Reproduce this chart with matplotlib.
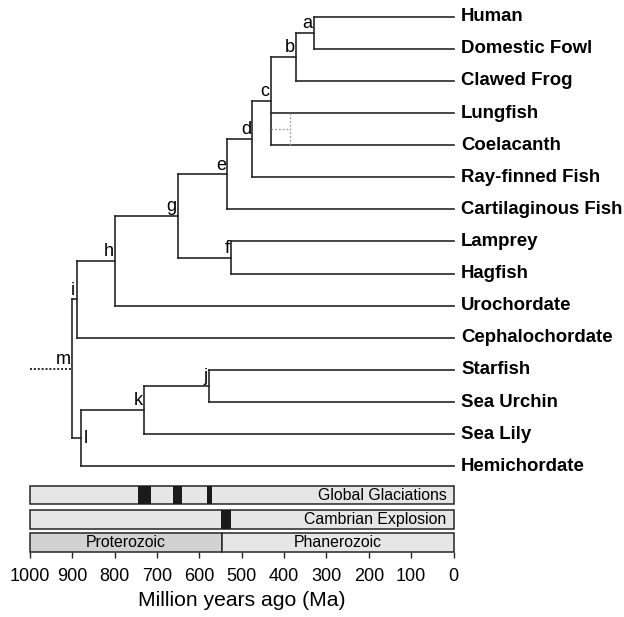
#!/usr/bin/env python3
"""
Time-calibrated phylogeny of deuterostomes with a geologic time strip below.
"""

import matplotlib.pyplot as plt
from matplotlib.patches import Rectangle

# --- Data ---------------------------------------------------------------------

LEAVES = [
    "Human", "Domestic Fowl", "Clawed Frog", "Lungfish", "Coelacanth",
    "Ray-finned Fish", "Cartilaginous Fish", "Lamprey", "Hagfish",
    "Urochordate", "Cephalochordate", "Starfish", "Sea Urchin", "Sea Lily",
    "Hemichordate",
]

NODE_NAMES = ["a", "b", "c", "d", "e", "f", "g", "h", "i", "j", "k", "l", "m"]
NODE_AGES = [330, 372, 432, 475, 534, 526, 651, 799, 890, 577, 731, 880, 900]
NODE_CHILDREN = {
    "a": ["Human", "Domestic Fowl"],
    "b": ["a", "Clawed Frog"],
    "c": ["b", "Lungfish", "Coelacanth"],
    "d": ["c", "Ray-finned Fish"],
    "e": ["d", "Cartilaginous Fish"],
    "f": ["Lamprey", "Hagfish"],
    "g": ["e", "f"],
    "h": ["g", "Urochordate"],
    "i": ["h", "Cephalochordate"],
    "j": ["Starfish", "Sea Urchin"],
    "k": ["j", "Sea Lily"],
    "l": ["k", "Hemichordate"],
    "m": ["i", "l"],
}
ROOT = "m"

# alternative lungfish + coelacanth node (dotted)
ALT_NODE_AGE = 386

GLACIATIONS = [(745, 714), (662, 640), (583, 570)]
CAMBRIAN = [(549, 525)]
EON_BOUNDARY = 547
EONS = ["Proterozoic", "Phanerozoic"]

XTICKS = [1000, 900, 800, 700, 600, 500, 400, 300, 200, 100, 0]

LINE_COLOR = "#262626"
FONT = "Liberation Sans"


# --- Tree ---------------------------------------------------------------------

def layout(node, ypos):
    """Return row of node; fills ypos for internal nodes (midpoint of span)."""
    if node not in NODE_CHILDREN:
        return LEAVES.index(node)
    ys = [layout(ch, ypos) for ch in NODE_CHILDREN[node]]
    ypos[node] = (min(ys) + max(ys)) / 2
    return ypos[node]


def draw_tree(ax):
    ages = dict(zip(NODE_NAMES, NODE_AGES))
    ypos = {}
    layout(ROOT, ypos)

    def row(n):
        return ypos[n] if n in ypos else LEAVES.index(n)

    for name in NODE_NAMES:
        x = ages[name]
        ys = [row(ch) for ch in NODE_CHILDREN[name]]
        ax.plot([x, x], [min(ys), max(ys)], color=LINE_COLOR, lw=1.2,
                solid_capstyle="projecting")
        for ch in NODE_CHILDREN[name]:
            x_end = ages.get(ch, 0)
            ax.plot([x, x_end], [row(ch), row(ch)], color=LINE_COLOR, lw=1.2,
                    solid_capstyle="projecting", clip_on=False)

        if name == "l":
            ax.text(x - 6, ypos[name], name, ha="left", va="center",
                    fontsize=13, family=FONT)
        else:
            ax.text(x + 3, ypos[name] - 0.02, name, ha="right", va="bottom",
                    fontsize=13, family=FONT)

    # dotted alternative node for Lungfish / Coelacanth
    y1, y2 = LEAVES.index("Lungfish"), LEAVES.index("Coelacanth")
    ax.plot([ALT_NODE_AGE, ALT_NODE_AGE], [y1, y2], color="#9a9a9a", lw=0.9,
            ls=(0, (1.5, 1.5)))
    ax.plot([ages["c"], ALT_NODE_AGE], [(y1 + y2) / 2] * 2, color="#9a9a9a",
            lw=0.9, ls=(0, (1.5, 1.5)))

    # dotted stem of the root
    ax.plot([1000, ages[ROOT]], [ypos[ROOT]] * 2, color=LINE_COLOR, lw=1.4,
            ls=(0, (1, 1)), clip_on=False)

    for i, leaf in enumerate(LEAVES):
        ax.text(-18, i, leaf, ha="left", va="center", fontsize=13.4,
                fontweight="bold", family=FONT, clip_on=False)


# --- Time strip ---------------------------------------------------------------

def draw_strip(ax, top, bottom, spans, text, fill="#e6e6e6"):
    ax.add_patch(Rectangle((1000, top), -1000, bottom - top, facecolor=fill,
                           edgecolor=LINE_COLOR, lw=1.1, zorder=2, clip_on=False))
    for old, young in spans:
        ax.add_patch(Rectangle((old, top), young - old, bottom - top,
                               facecolor="#1a1a1a", edgecolor="none", zorder=3))
    if text:
        ax.text(16, (top + bottom) / 2, text, ha="right", va="center",
                fontsize=11.4, family=FONT, zorder=4)


def draw_time_strips(ax):
    draw_strip(ax, 14.61, 15.19, GLACIATIONS, "Global Glaciations")
    draw_strip(ax, 15.37, 15.96, CAMBRIAN, "Cambrian Explosion")

    top, bottom = 16.09, 16.68
    ax.add_patch(Rectangle((1000, top), EON_BOUNDARY - 1000, bottom - top,
                           facecolor="#d2d2d2", edgecolor=LINE_COLOR, lw=1.1,
                           zorder=2, clip_on=False))
    ax.add_patch(Rectangle((EON_BOUNDARY, top), -EON_BOUNDARY, bottom - top,
                           facecolor="#e6e6e6", edgecolor=LINE_COLOR, lw=1.1,
                           zorder=2, clip_on=False))
    mid = (top + bottom) / 2
    ax.text((1000 + EON_BOUNDARY) / 2, mid, EONS[0], ha="center", va="center",
            fontsize=11.4, family=FONT, zorder=4)
    ax.text(EON_BOUNDARY / 2, mid, EONS[1], ha="center", va="center",
            fontsize=11.4, family=FONT, zorder=4)


# --- Main ---------------------------------------------------------------------

def main():
    fig = plt.figure(figsize=(6.24, 6.17), dpi=100)
    ax = fig.add_axes([30 / 624, (617 - 552.3) / 617, 423.5 / 624, 552.3 / 617])

    draw_tree(ax)
    draw_time_strips(ax)

    ax.set_xlim(1000, 0)
    ax.set_ylim(16.68, -0.52)
    for side in ["top", "right", "left", "bottom"]:
        ax.spines[side].set_visible(False)
    ax.set_yticks([])
    ax.set_xticks(XTICKS)
    ax.set_xticklabels([str(t) for t in XTICKS], fontsize=13, family=FONT)
    ax.tick_params(axis="x", direction="out", length=4.5, width=1.0,
                   color=LINE_COLOR, pad=7)
    ax.set_xlabel("Million years ago (Ma)", fontsize=15.2, family=FONT,
                  labelpad=4)

    fig.savefig("out.png", dpi=100)
    plt.close(fig)


if __name__ == "__main__":
    main()
